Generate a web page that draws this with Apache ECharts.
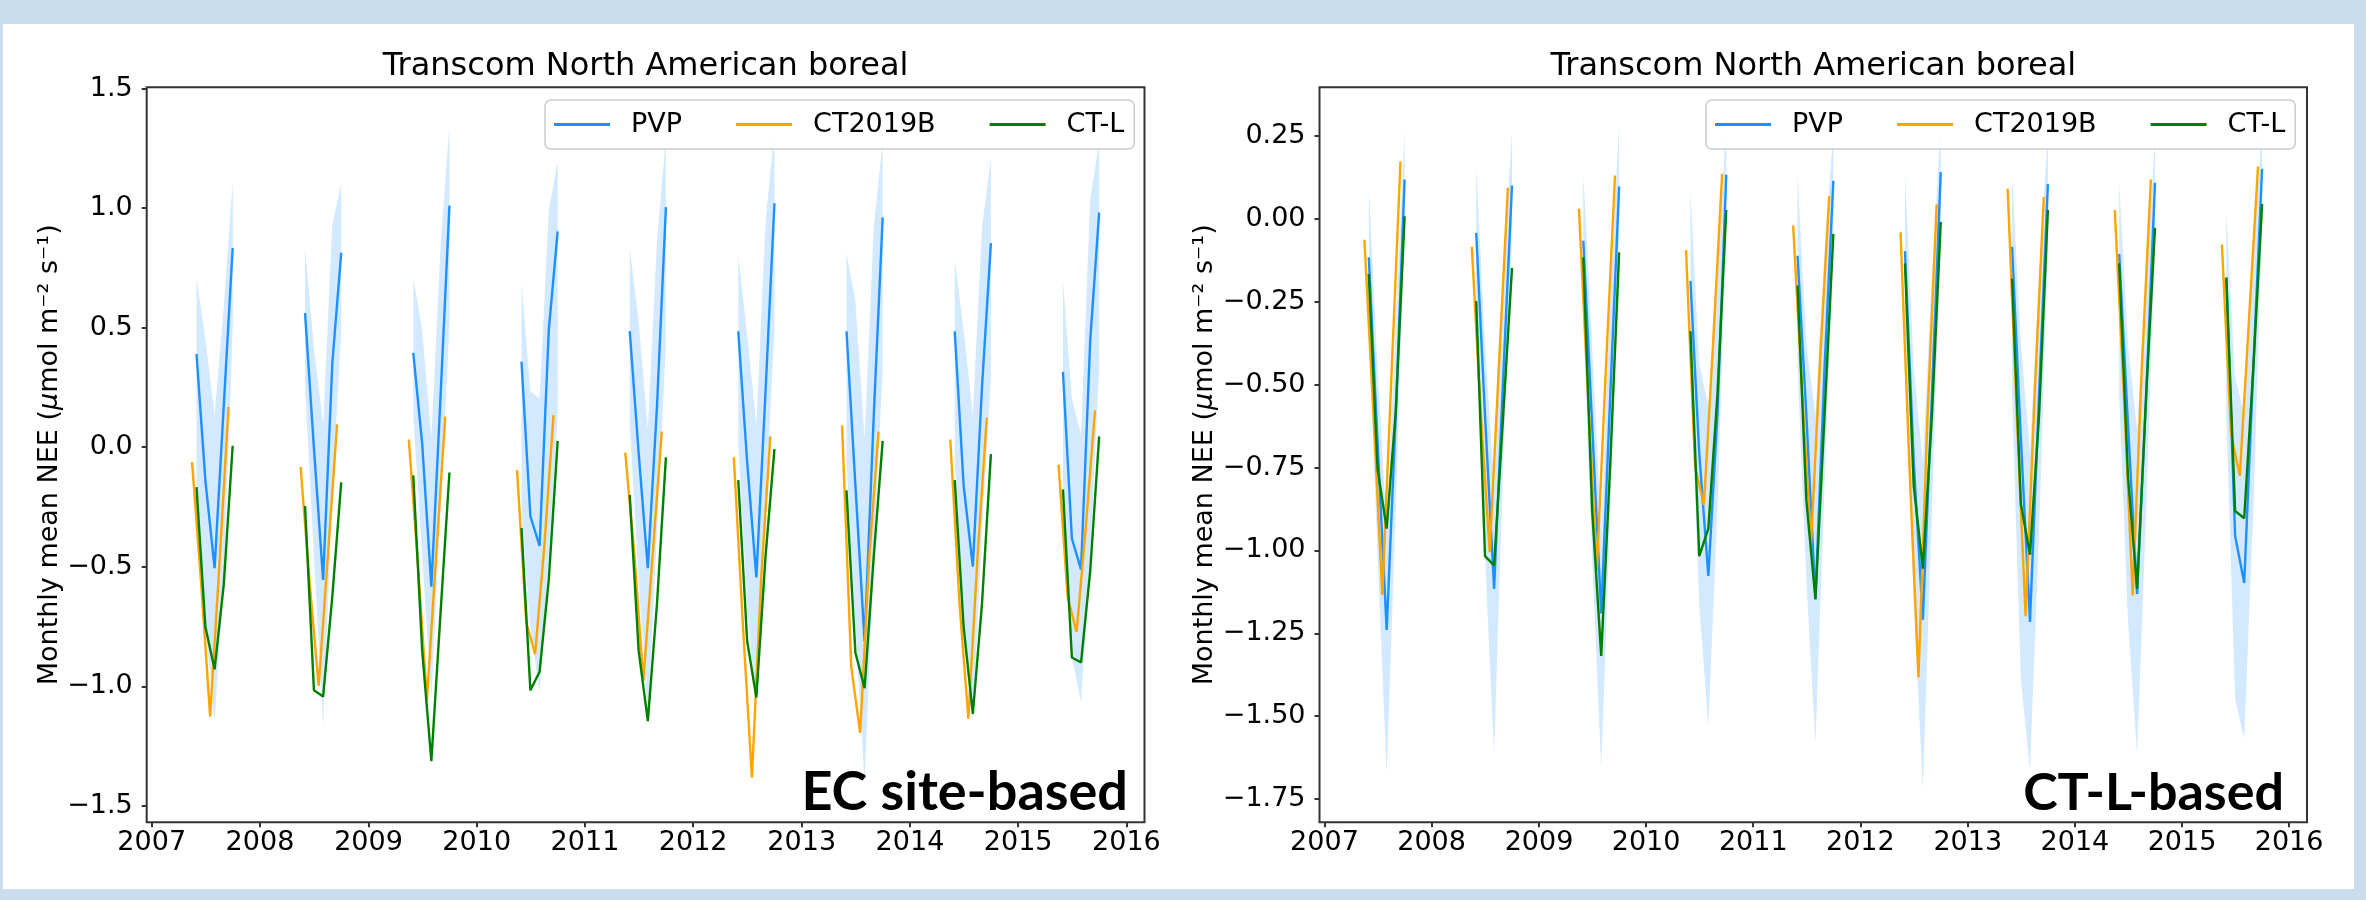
<!DOCTYPE html>
<html>
<head>
<meta charset="utf-8">
<script src="https://cdn.jsdelivr.net/npm/echarts@6/dist/echarts.min.js"></script>
<style>
html,body{margin:0;padding:0;background:#c9ddef;}
#c{width:2366px;height:900px;}
</style>
</head>
<body>
<div id="c"></div>
<script>
// ---------- data ----------
const years = [2007, 2008, 2009, 2010, 2011, 2012, 2013, 2014, 2015];
// month/day of the monthly points
const datesMain = [[6, 1], [7, 1], [8, 1], [9, 1], [10, 1]];      // PVP, CT-L
const datesCT2019B = [[5, 17], [6, 17], [7, 17], [8, 17], [9, 17]]; // CT2019B
const seriesNames = ['PVP', 'CT2019B', 'CT-L'];
const xTickYears = [2007, 2008, 2009, 2010, 2011, 2012, 2013, 2014, 2015, 2016];

// Left panel: EC site-based
const ecTicks = [-1.5, -1.0, -0.5, 0.0, 0.5, 1.0, 1.5];
const ecYRange = [-1.569, 1.505];
const ecPVP = [
  0.39, -0.14, -0.506, 0.174, 0.833,
  0.561, -0.004, -0.555, 0.351, 0.813,
  0.394, 0.016, -0.584, 0.213, 1.01,
  0.357, -0.289, -0.413, 0.489, 0.902,
  0.485, -0.023, -0.506, 0.174, 1.004,
  0.484, -0.063, -0.545, 0.233, 1.02,
  0.484, -0.16, -0.813, 0.134, 0.961,
  0.484, -0.16, -0.50, 0.252, 0.853,
  0.315, -0.382, -0.512, 0.449, 0.981
];
const ecPVPUpper = [
  0.705, 0.449, 0.134, 0.587, 1.109,
  0.833, 0.41, 0.095, 0.932, 1.099,
  0.709, 0.489, 0.036, 0.843, 1.345,
  0.685, 0.233, 0.203, 0.99, 1.197,
  0.833, 0.528, 0.075, 0.863, 1.296,
  0.804, 0.47, 0.095, 0.941, 1.325,
  0.813, 0.607, 0.036, 0.921, 1.276,
  0.784, 0.489, 0.134, 0.921, 1.207,
  0.695, 0.203, 0.055, 1.04, 1.276
];
const ecPVPLower = [
  -0.2, -0.752, -1.145, -0.555, 0.489,
  0.252, -0.456, -1.165, -0.2, 0.489,
  0.134, -0.456, -1.047, -0.26, 0.506,
  -0.26, -0.752, -1.028, -0.456, 0.134,
  0.095, -0.555, -1.126, -0.358, 0.429,
  0.016, -0.653, -1.107, -0.26, 0.489,
  -0.063, -0.752, -1.40, -0.456, 0.331,
  -0.063, -0.752, -1.146, -0.358, 0.292,
  -0.26, -0.88, -1.067, -0.456, 0.331
];
const ecCT2019B = [
  -0.063, -0.575, -1.126, -0.496, 0.168,
  -0.083, -0.575, -0.998, -0.456, 0.095,
  0.032, -0.496, -1.057, -0.456, 0.128,
  -0.096, -0.732, -0.866, -0.413, 0.134,
  -0.023, -0.456, -0.978, -0.456, 0.065,
  -0.043, -0.752, -1.382, -0.555, 0.045,
  0.091, -0.919, -1.195, -0.456, 0.065,
  0.032, -0.653, -1.136, -0.456, 0.124,
  -0.073, -0.63, -0.772, -0.335, 0.154
];
const ecCTL = [
  -0.167, -0.752, -0.929, -0.574, 0.006,
  -0.246, -1.017, -1.043, -0.624, -0.147,
  -0.118, -0.85, -1.313, -0.693, -0.106,
  -0.338, -1.017, -0.939, -0.555, 0.026,
  -0.2, -0.85, -1.146, -0.653, -0.043,
  -0.138, -0.811, -1.047, -0.456, -0.008,
  -0.181, -0.86, -1.008, -0.456, 0.026,
  -0.138, -0.752, -1.116, -0.653, -0.029,
  -0.177, -0.88, -0.9, -0.516, 0.045
];

// Right panel: CT-L-based
const ctTicks = [-1.75, -1.5, -1.25, -1.0, -0.75, -0.5, -0.25, 0.0, 0.25];
const ctYRange = [-1.82, 0.397];
const ctPVP = [
  -0.116, -0.678, -1.24, -0.592, 0.119,
  -0.042, -0.592, -1.116, -0.479, 0.101,
  -0.066, -0.621, -1.19, -0.53, 0.098,
  -0.187, -0.706, -1.077, -0.592, 0.133,
  -0.111, -0.592, -1.145, -0.45, 0.115,
  -0.097, -0.735, -1.209, -0.53, 0.141,
  -0.084, -0.664, -1.216, -0.53, 0.105,
  -0.106, -0.621, -1.131, -0.53, 0.109,
  -0.177, -0.956, -1.098, -0.45, 0.151
];
const ctPVPUpper = [
  0.098, -0.45, -0.948, -0.308, 0.269,
  0.162, -0.379, -0.806, -0.166, 0.262,
  0.141, -0.379, -0.948, -0.237, 0.29,
  0.084, -0.436, -0.564, -0.166, 0.283,
  0.133, -0.379, -0.592, -0.094, 0.262,
  0.133, -0.45, -0.735, -0.166, 0.283,
  0.133, -0.379, -0.706, -0.166, 0.262,
  0.112, -0.379, -0.635, -0.166, 0.233,
  0.02, -0.479, -0.592, -0.094, 0.276
];
const ctPVPLower = [
  -0.308, -1.02, -1.675, -0.877, -0.023,
  -0.308, -1.02, -1.617, -0.735, -0.052,
  -0.308, -1.02, -1.66, -0.877, -0.052,
  -0.45, -1.162, -1.532, -0.877, -0.023,
  -0.45, -1.091, -1.582, -0.806, -0.094,
  -0.45, -1.162, -1.72, -0.877, -0.052,
  -0.53, -1.39, -1.66, -0.948, -0.094,
  -0.53, -1.215, -1.617, -0.877, -0.066,
  -0.592, -1.447, -1.568, -0.877, -0.023
];
const ctCT2019B = [
  -0.063, -0.592, -1.134, -0.479, 0.173,
  -0.084, -0.592, -1.005, -0.45, 0.094,
  0.031, -0.53, -1.062, -0.45, 0.131,
  -0.094, -0.749, -0.863, -0.379, 0.136,
  -0.02, -0.53, -0.977, -0.422, 0.069,
  -0.04, -0.763, -1.383, -0.592, 0.044,
  0.091, -0.592, -1.198, -0.53, 0.066,
  0.027, -0.53, -1.136, -0.45, 0.119,
  -0.077, -0.649, -0.775, -0.308, 0.158
];
const ctCTL = [
  -0.166, -0.756, -0.934, -0.578, 0.008,
  -0.248, -1.017, -1.045, -0.592, -0.148,
  -0.116, -0.877, -1.318, -0.735, -0.101,
  -0.339, -1.017, -0.934, -0.53, 0.027,
  -0.201, -0.849, -1.148, -0.592, -0.045,
  -0.134, -0.806, -1.055, -0.592, -0.009,
  -0.18, -0.86, -1.013, -0.592, 0.027,
  -0.134, -0.778, -1.116, -0.53, -0.027,
  -0.177, -0.881, -0.903, -0.45, 0.045
];

// ---------- helpers ----------
const FONT = 'DejaVu Sans';
const COLORS = { PVP: '#1e90ff', CT2019B: '#ffa500', 'CT-L': '#008000' };
function xOf(year, md) { return Date.UTC(year, md[0] - 1, md[1]); }
const xFirst = xOf(years[0], datesCT2019B[0]);
const xLast = xOf(years[years.length - 1], datesMain[4]);
const xPad = 0.05 * (xLast - xFirst);
const xRange = [xFirst - xPad, xLast + xPad];
const xTicks = xTickYears.map(y => Date.UTC(y, 0, 1));

function fmtY(dec) {
  return v => (v < 0 ? '\u2212' : '') + Math.abs(v).toFixed(dec);
}
// one line series per growing season (matplotlib draws separate segments)
function lineSeries(name, values, md, idx, zBase) {
  return years.map((y, i) => ({
    type: 'line', name: name, xAxisIndex: idx, yAxisIndex: idx,
    data: md.map((p, j) => [xOf(y, p), values[i * 5 + j]]),
    showSymbol: false, symbol: 'none',
    color: COLORS[name], lineStyle: { width: 2.4, color: COLORS[name] },
    animation: false, z: zBase
  }));
}
function bandSeries(upper, lower, idx) {
  return {
    type: 'custom', name: 'PVP range', xAxisIndex: idx, yAxisIndex: idx,
    clip: true, z: 2, silent: true,
    data: years.map((y, i) => [xOf(y, datesMain[0]), upper[i * 5], i]),
    renderItem: function (params, api) {
      const i = params.dataIndex;
      const pts = [];
      for (let j = 0; j < 5; j++) pts.push(api.coord([xOf(years[i], datesMain[j]), upper[i * 5 + j]]));
      for (let j = 4; j >= 0; j--) pts.push(api.coord([xOf(years[i], datesMain[j]), lower[i * 5 + j]]));
      return { type: 'polygon', shape: { points: pts }, style: { fill: 'rgba(30,144,255,0.2)', stroke: null } };
    }
  };
}
const grids = [
  { left: 146.7, top: 87.3, width: 997.8, height: 735 },
  { left: 1319.5, top: 87.3, width: 987.5, height: 735 }
];
function xAxisOf(idx) {
  return {
    type: 'value', gridIndex: idx, min: xRange[0], max: xRange[1], position: 'bottom',
    splitLine: { show: false }, axisLine: { show: false, onZero: false },
    axisTick: { show: true, length: 5, lineStyle: { color: '#333', width: 2 }, customValues: xTicks },
    axisLabel: {
      customValues: xTicks, margin: 7, fontSize: 27, fontFamily: FONT, color: '#000',
      formatter: v => String(new Date(v).getUTCFullYear())
    }
  };
}
const yName = 'Monthly mean NEE ({i|\u03bc}mol m\u207b\u00b2 s\u207b\u00b9)';
function yAxisOf(idx, range, ticks, dec, gap) {
  return {
    type: 'value', gridIndex: idx, min: range[0], max: range[1], position: 'left',
    splitLine: { show: false }, axisLine: { show: false, onZero: false },
    axisTick: { show: true, length: 5, lineStyle: { color: '#333', width: 2 }, customValues: ticks },
    axisLabel: { customValues: ticks, margin: 14, fontSize: 27, fontFamily: FONT, color: '#000', formatter: fmtY(dec) },
    name: yName, nameLocation: 'middle', nameGap: gap,
    nameTextStyle: {
      fontSize: 27, fontFamily: FONT, color: '#000',
      rich: { i: { fontSize: 27, fontFamily: FONT, fontStyle: 'italic', color: '#000' } }
    }
  };
}
function legendOf(left) {
  return {
    left: left, top: 100, orient: 'horizontal', data: seriesNames,
    icon: 'rect', itemWidth: 56, itemHeight: 3, itemGap: 54,
    padding: [11, 10, 11, 9],
    backgroundColor: 'rgba(255,255,255,0.8)', borderColor: '#cccccc', borderWidth: 1.5, borderRadius: 6,
    textStyle: { fontSize: 27, fontFamily: FONT, color: '#000', padding: [0, 0, 0, 16] }
  };
}

const option = {
  animation: false,
  backgroundColor: '#c9ddef',
  graphic: [
    { type: 'rect', z: -100, silent: true, shape: { x: 3, y: 24, width: 2351, height: 865 }, style: { fill: '#ffffff' } },
    { type: 'text', z: 100, x: 645.6, y: 67, style: { text: 'Transcom North American boreal', font: '32px "DejaVu Sans"', fill: '#000', align: 'center', verticalAlign: 'middle', textAlign: 'center', textVerticalAlign: 'middle' } },
    { type: 'text', z: 100, x: 1813.3, y: 67, style: { text: 'Transcom North American boreal', font: '32px "DejaVu Sans"', fill: '#000', align: 'center', verticalAlign: 'middle', textAlign: 'center', textVerticalAlign: 'middle' } },
    { type: 'text', z: 100, x: 1128, y: 793, style: { text: 'EC site-based', font: 'bold 54px Lato', fill: '#000', align: 'right', verticalAlign: 'middle', textAlign: 'right', textVerticalAlign: 'middle' } },
    { type: 'text', z: 100, x: 2284, y: 793, style: { text: 'CT-L-based', font: 'bold 52px Lato', fill: '#000', align: 'right', verticalAlign: 'middle', textAlign: 'right', textVerticalAlign: 'middle' } }
  ],
  grid: grids.map(g => Object.assign({ show: true, borderColor: '#333', borderWidth: 2, backgroundColor: 'transparent', containLabel: false, outerBoundsMode: 'none' }, g)),
  xAxis: [xAxisOf(0), xAxisOf(1)],
  yAxis: [yAxisOf(0, ecYRange, ecTicks, 1, 82), yAxisOf(1, ctYRange, ctTicks, 2, 100)],
  legend: [legendOf(545), legendOf(1706)],
  series: [].concat(
    [bandSeries(ecPVPUpper, ecPVPLower, 0)],
    lineSeries('PVP', ecPVP, datesMain, 0, 3),
    lineSeries('CT2019B', ecCT2019B, datesCT2019B, 0, 4),
    lineSeries('CT-L', ecCTL, datesMain, 0, 5),
    [bandSeries(ctPVPUpper, ctPVPLower, 1)],
    lineSeries('PVP', ctPVP, datesMain, 1, 3),
    lineSeries('CT2019B', ctCT2019B, datesCT2019B, 1, 4),
    lineSeries('CT-L', ctCTL, datesMain, 1, 5)
  )
};
const chart = echarts.init(document.getElementById('c'), null, { renderer: 'canvas', width: 2366, height: 900 });
chart.setOption(option);
</script>
</body>
</html>
